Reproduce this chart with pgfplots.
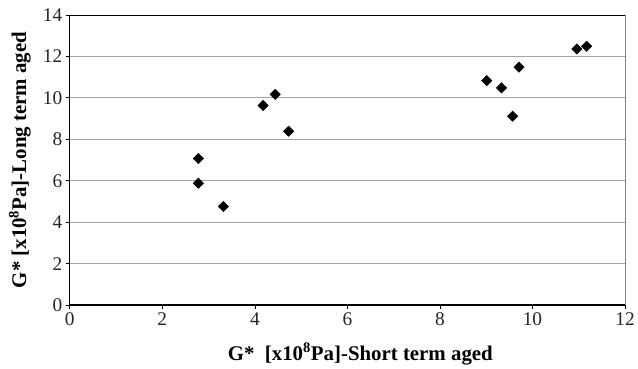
\documentclass[border=0pt]{standalone}
\usepackage{pgfplots}
\pgfplotsset{compat=1.18}
\usepackage{fontspec}
\setmainfont{Liberation Serif}
\begin{document}
\begin{tikzpicture}
\begin{axis}[
  scale only axis,
  width=557bp, height=291bp,
  xmin=0, xmax=12, ymin=0, ymax=14,
  xtick={0,2,...,12}, ytick={0,2,...,14},
  axis lines=left,
  axis line style={black, line width=1pt, -},
  x axis line style={line width=1.6pt},
  ymajorgrids,
  grid style={gray!70, line width=0.7pt},
  tick align=outside,
  major tick length=4bp,
  tick style={black, line width=0.7pt},
  /pgf/number format/assume math mode=true,
  ticklabel style={font=\fontsize{19.5}{22}\selectfont, text=black!85},
  xlabel={G*\ \ [x10\textsuperscript{8}Pa]-Short term aged},
  ylabel={G* [x10\textsuperscript{8}Pa]-Long term aged},
  label style={font=\bfseries\fontsize{21}{24}\selectfont},
  xlabel style={at={(axis description cs:0.5233,-0.169)}, anchor=center},
  ylabel style={at={(axis description cs:-0.0898,0.5)}, anchor=center},
  clip=false,
]
\addplot[only marks, mark=square*, mark size=3.7bp, mark options={rotate=45, fill=black, draw=black}] coordinates {
  (2.78,7.07) (2.78,5.88) (3.32,4.76) (4.18,9.63) (4.44,10.17) (4.73,8.39)
  (9.01,10.83) (9.33,10.48) (9.57,9.11) (9.71,11.48) (10.96,12.36) (11.17,12.49)
};
\draw[black, line width=0.9pt] (rel axis cs:0,1) -- (rel axis cs:1,1);
\draw[gray, line width=0.9pt] (rel axis cs:1,1) -- (rel axis cs:1,0);
\end{axis}
\path ([shift={(-70bp,-61bp)}]current axis.south west) rectangle ([shift={(11bp,15bp)}]current axis.north east);
\end{tikzpicture}
\end{document}
